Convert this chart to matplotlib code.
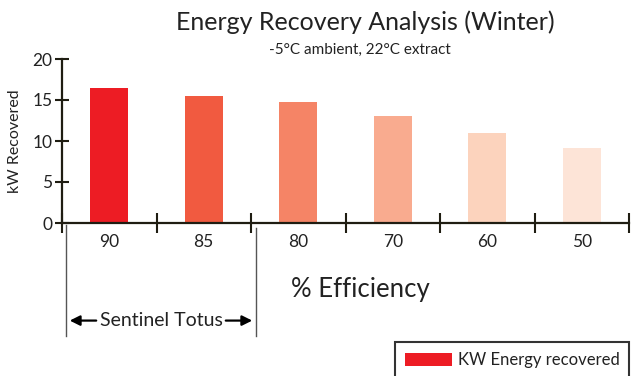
import matplotlib.pyplot as plt
from matplotlib.patches import Patch

efficiency = ["90", "85", "80", "70", "60", "50"]
kw_recovered = [16.5, 15.5, 14.7, 13.0, 11.0, 9.2]
bar_colors = ["#ED1C24", "#F15A40", "#F58466", "#F9AB8F", "#FCD3BD", "#FDE4D7"]

plt.rcParams['font.family'] = ['Lato', 'DejaVu Sans']
axis_col = "#1f1d12"

fig = plt.figure(figsize=(6.31, 3.76), dpi=100)
ax = fig.add_axes([62 / 631, 1 - 223 / 376, 567 / 631, 164 / 376])

x = range(len(efficiency))
ax.bar(x, kw_recovered, width=0.4, color=bar_colors, zorder=2)

ax.set_xlim(-0.5, len(efficiency) - 0.5)
ax.set_ylim(0, 20)
ax.set_yticks([0, 5, 10, 15, 20])
ax.set_xticks([i - 0.5 for i in range(len(efficiency) + 1)])
ax.set_xticklabels([])
ax.set_xticks(list(x), minor=True)
ax.set_xticklabels(efficiency, minor=True, fontsize=12.5, color="#222222")
ax.tick_params(axis="x", which="minor", length=0, pad=8)
ax.tick_params(axis="x", which="major", direction="inout", length=14,
               width=1.5, color=axis_col)
ax.tick_params(axis="y", direction="inout", length=10, width=1.5,
               color=axis_col, labelsize=12.5, labelcolor="#222222", pad=2)

for side in ("top", "right"):
    ax.spines[side].set_visible(False)
for side in ("left", "bottom"):
    ax.spines[side].set_color(axis_col)
    ax.spines[side].set_linewidth(1.6)

ax.set_ylabel("kW Recovered", fontsize=11.5, color="#222222", labelpad=7)
fig.text(360 / 631, 1 - 290 / 376, "% Efficiency", ha="center", va="center",
         fontsize=18.5, color="#222222")

fig.text(365 / 631, 0.94, "Energy Recovery Analysis (Winter)", ha="center",
         va="center", fontsize=18, color="#222222")
fig.text(360 / 631, 0.867, "-5°C ambient, 22°C extract", ha="center",
         va="center", fontsize=11, color="#222222")

# bracket marking the Sentinel Totus range (90 and 85)
trans = ax.get_xaxis_transform()
left_x, right_x = -0.458, 1.553
ax.plot([left_x, left_x], [-0.01, -0.69], color="#555555", lw=1,
        transform=trans, clip_on=False)
ax.plot([right_x, right_x], [-0.03, -0.69], color="#555555", lw=1,
        transform=trans, clip_on=False)
mid = (left_x + right_x) / 2
ax.text(mid, -0.595, "Sentinel Totus", ha="center", va="center",
        fontsize=14, color="#222222", transform=trans)
ax.annotate("", xy=(left_x + 0.04, -0.595), xytext=(left_x + 0.32, -0.595),
            xycoords=trans, textcoords=trans,
            arrowprops=dict(arrowstyle="-|>", color="black", lw=1.6,
                            mutation_scale=15, shrinkA=0, shrinkB=0))
ax.annotate("", xy=(right_x - 0.04, -0.595), xytext=(right_x - 0.32, -0.595),
            xycoords=trans, textcoords=trans,
            arrowprops=dict(arrowstyle="-|>", color="black", lw=1.6,
                            mutation_scale=15, shrinkA=0, shrinkB=0))

handle = Patch(facecolor="#ED1C24", edgecolor="none")
leg = fig.legend([handle], ["KW Energy recovered"], loc="upper left",
                 bbox_to_anchor=(395 / 631, 1 - 342 / 376), fontsize=12,
                 frameon=True, fancybox=False, edgecolor="black",
                 handlelength=2.8, handleheight=0.8, borderpad=0.6,
                 handletextpad=0.35, borderaxespad=0)
leg.get_frame().set_linewidth(1.5)
for t in leg.get_texts():
    t.set_color("#222222")

fig.savefig("out.png", dpi=100)
